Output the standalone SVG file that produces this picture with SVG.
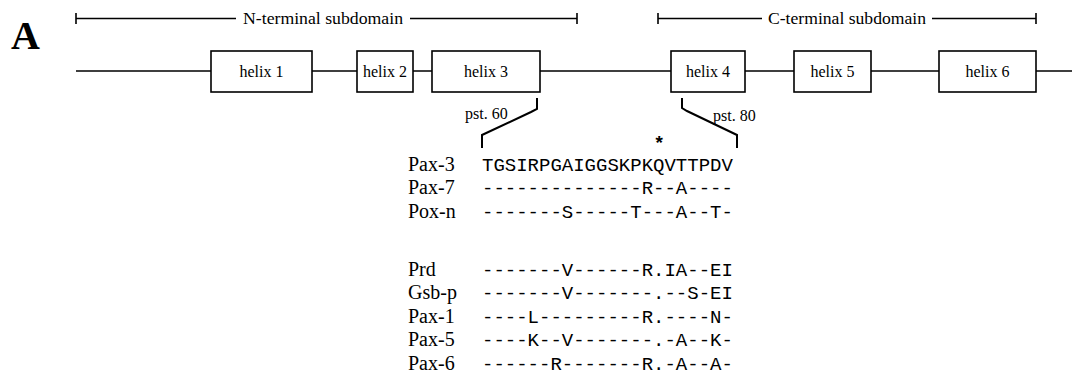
<svg xmlns="http://www.w3.org/2000/svg" width="1072" height="379" viewBox="0 0 1072 379">
<style>
.bg{fill:#fff}
.ln{stroke:#000;stroke-width:1.6;fill:none}
.br{stroke:#000;stroke-width:2;fill:none}
.box{fill:#fff;stroke:#000;stroke-width:1.6}
.t{font-family:"Liberation Serif","Times New Roman",serif;fill:#000}
.h{font-size:16px;text-anchor:middle}
.lab{font-size:20px}
.seq{font-family:"Liberation Mono","Courier New",monospace;font-size:19px;fill:#000}
</style>
<rect class="bg" x="0" y="0" width="1072" height="379"/>
<text class="t" x="11" y="49" font-size="40" font-weight="bold">A</text>
<g id="connectors">
  <path class="ln" d="M76,18.5H236 M410,18.5H577 M76,13V24 M577,13V24"/>
  <path class="ln" d="M658,18.5H762 M932,18.5H1036 M658,13V24 M1036,13V24"/>
  <path class="ln" d="M76,71H211 M312,71H357 M413,71H432 M540,71H671 M745,71H794 M871,71H939 M1036,71H1072"/>
  <path class="br" d="M537,98V109L531,112L482,135V148"/>
  <path class="br" d="M682,98V108L687,111L737,135V148"/>
</g>
<text class="t" x="323" y="24" font-size="16" text-anchor="middle" textLength="160" lengthAdjust="spacingAndGlyphs">N-terminal subdomain</text>
<text class="t" x="847" y="24" font-size="16" text-anchor="middle" textLength="158" lengthAdjust="spacingAndGlyphs">C-terminal subdomain</text>
<g id="helix1"><rect class="box" x="211" y="51" width="101" height="41"/><text class="t h" x="261.5" y="77">helix 1</text></g>
<g id="helix2"><rect class="box" x="357" y="51" width="56" height="41"/><text class="t h" x="385" y="77">helix 2</text></g>
<g id="helix3"><rect class="box" x="432" y="51" width="108" height="41"/><text class="t h" x="486" y="77">helix 3</text></g>
<g id="helix4"><rect class="box" x="671" y="51" width="74" height="41"/><text class="t h" x="708" y="77">helix 4</text></g>
<g id="helix5"><rect class="box" x="794" y="51" width="77" height="41"/><text class="t h" x="832.5" y="77">helix 5</text></g>
<g id="helix6"><rect class="box" x="939" y="51" width="97" height="41"/><text class="t h" x="987.5" y="77">helix 6</text></g>
<text class="t" x="465" y="119" font-size="16">pst. 60</text>
<text class="t" x="713" y="121" font-size="16">pst. 80</text>
<text class="seq" x="653.5" y="149" font-size="16" font-weight="bold">*</text>
<g id="alignment">
  <text class="t lab" x="408" y="171">Pax-3</text><text class="seq" x="482" y="171">TGSIRPGAIGGSKPKQVTTPDV</text>
  <text class="t lab" x="408" y="194">Pax-7</text><text class="seq" x="482" y="194">--------------R--A----</text>
  <text class="t lab" x="408" y="218">Pox-n</text><text class="seq" x="482" y="218">-------S-----T---A--T-</text>
  <text class="t lab" x="408" y="276">Prd</text><text class="seq" x="482" y="276">-------V------R.IA--EI</text>
  <text class="t lab" x="408" y="299">Gsb-p</text><text class="seq" x="482" y="299">-------V-------.--S-EI</text>
  <text class="t lab" x="408" y="323">Pax-1</text><text class="seq" x="482" y="323">----L---------R.----N-</text>
  <text class="t lab" x="408" y="346">Pax-5</text><text class="seq" x="482" y="346">----K--V-------.-A--K-</text>
  <text class="t lab" x="408" y="370">Pax-6</text><text class="seq" x="482" y="370">------R-------R.-A--A-</text>
</g>
</svg>
